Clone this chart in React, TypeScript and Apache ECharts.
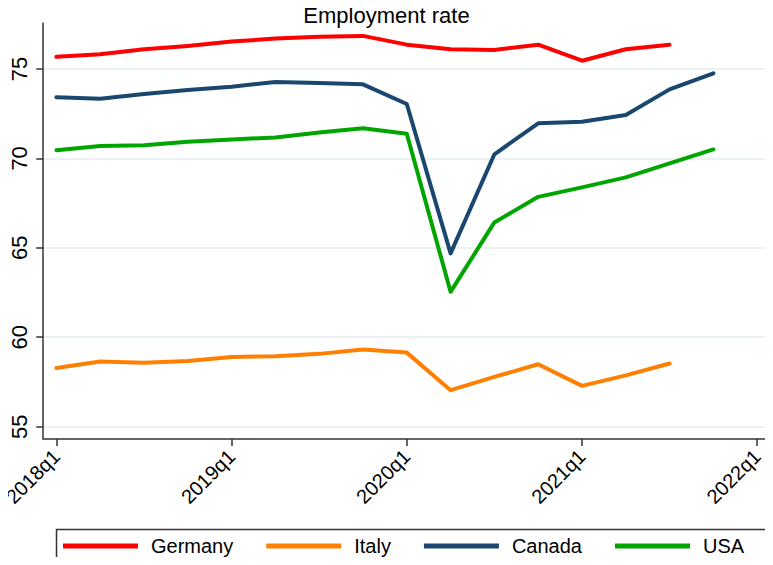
import React, { useEffect, useRef } from "react";
import * as echarts from "echarts";

const quarters = [
  "2018q1", "2018q2", "2018q3", "2018q4",
  "2019q1", "2019q2", "2019q3", "2019q4",
  "2020q1", "2020q2", "2020q3", "2020q4",
  "2021q1", "2021q2", "2021q3", "2021q4",
];
const germany = [75.68, 75.82, 76.1, 76.29, 76.53, 76.7, 76.8, 76.85, 76.36, 76.1, 76.06, 76.36, 75.46, 76.1, 76.36];
const italy = [58.28, 58.64, 58.58, 58.67, 58.9, 58.94, 59.07, 59.31, 59.14, 57.04, 57.78, 58.49, 57.28, 57.87, 58.53];
const canada = [73.42, 73.34, 73.6, 73.83, 74.01, 74.27, 74.22, 74.14, 73.04, 64.69, 70.23, 71.96, 72.05, 72.43, 73.86, 74.76];
const usa = [70.46, 70.69, 70.74, 70.93, 71.06, 71.17, 71.45, 71.68, 71.38, 62.54, 66.42, 67.85, 68.38, 68.94, 69.72, 70.5];
const xTickLabels = ["2018q1", "2019q1", "2020q1", "2021q1", "2022q1"];
const xTickIndex = [0, 4, 8, 12, 16];
const yTicks = [55, 60, 65, 70, 75];

const FONT = "Liberation Sans, Arial, sans-serif";

function toPoints(vals: number[]) {
  return vals.map((v, i) => [i, v]);
}

export default function App() {
  const ref = useRef<HTMLDivElement>(null);
  useEffect(() => {
    if (!ref.current) return;
    const chart = echarts.init(ref.current, null, { renderer: "svg" });
    const mk = (name: string, vals: number[], color: string) => ({
      name,
      type: "line",
      data: toPoints(vals),
      showSymbol: false,
      symbol: "none",
      lineStyle: { color, width: 4, join: "round", cap: "round" },
      itemStyle: { color },
    });
    chart.setOption({
      animation: false,
      backgroundColor: "#ffffff",
      title: {
        text: "Employment rate",
        left: "center",
        top: 4,
        padding: 0,
        textStyle: { fontFamily: FONT, fontSize: 22, fontWeight: "normal", color: "#000" },
      },
      grid: { left: 40, top: 23, right: 4, bottom: 126, containLabel: false },
      xAxis: {
        type: "value",
        min: -0.3,
        max: 16.27,
        axisLine: { show: true, onZero: false, lineStyle: { color: "#333", width: 1.5 } },
        axisTick: { show: true, length: 7, customValues: xTickIndex, lineStyle: { color: "#333", width: 1.5 } },
        axisLabel: {
          customValues: xTickIndex,
          rotate: 45,
          margin: 14,
          fontFamily: FONT,
          fontSize: 20,
          color: "#000",
          formatter: (v: number) => {
            const k = xTickIndex.indexOf(Math.round(v));
            return k >= 0 ? xTickLabels[k] : "";
          },
        },
        splitLine: { show: false },
      },
      yAxis: {
        type: "value",
        min: 54.31,
        max: 77.57,
        axisLine: { show: true, onZero: false, lineStyle: { color: "#333", width: 1.5 } },
        axisTick: { show: true, length: 7, customValues: yTicks, lineStyle: { color: "#333", width: 1.5 } },
        axisLabel: {
          customValues: yTicks,
          rotate: 90,
          margin: 13,
          fontFamily: FONT,
          fontSize: 22,
          color: "#000",
        },
        splitLine: { show: true, lineStyle: { color: "#eaf2f3", width: 2 } },
      },
      legend: {
        left: 63,
        top: 536,
        padding: 0,
        icon: "rect",
        itemWidth: 75,
        itemHeight: 5,
        itemGap: 33,
        textStyle: { fontFamily: FONT, fontSize: 20, color: "#000", padding: [0, 0, 0, 8] },
        data: ["Germany", "Italy", "Canada", "USA"],
      },
      graphic: [
        {
          type: "rect",
          left: 54,
          top: 527,
          shape: { width: 716, height: 50 },
          style: { fill: "none", stroke: "#333", lineWidth: 1.5 },
          silent: true,
        },
      ],
      series: [
        mk("Germany", germany, "#ff0000"),
        mk("Italy", italy, "#ff8000"),
        mk("Canada", canada, "#1a476f"),
        mk("USA", usa, "#00a500"),
      ],
    });
    return () => chart.dispose();
  }, []);
  return <div ref={ref} style={{ width: 773, height: 565, margin: -8 }} />;
}
